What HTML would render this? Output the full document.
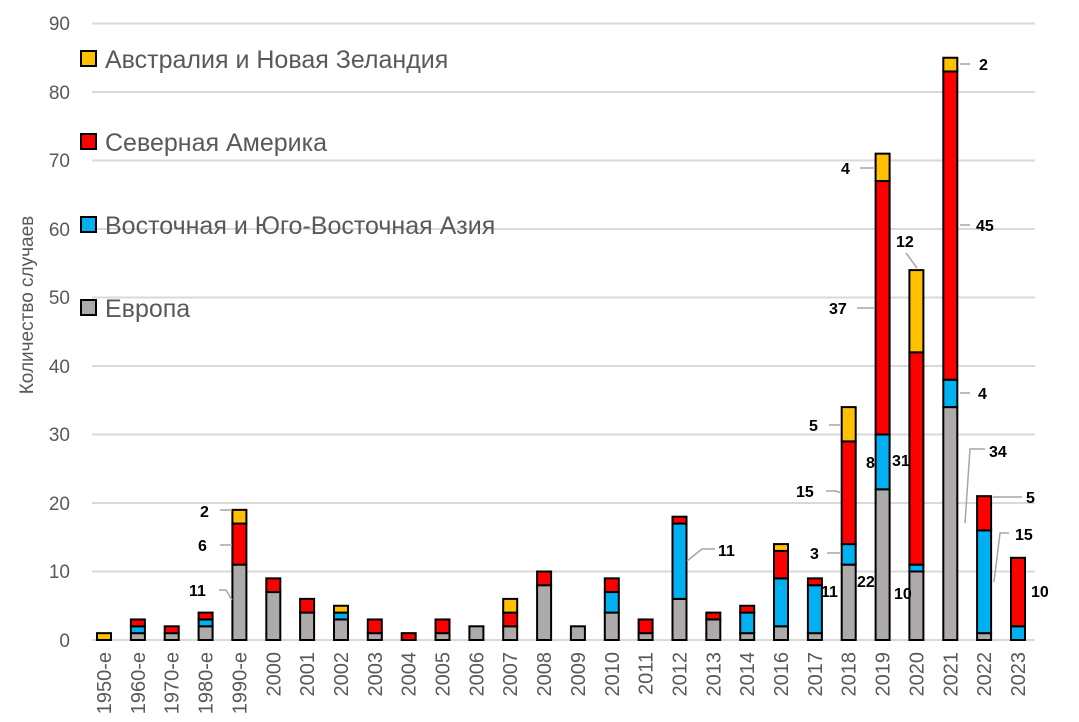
<!DOCTYPE html>
<html><head><meta charset="utf-8"><style>
html,body{margin:0;padding:0;background:#fff;}
svg{display:block;font-family:"Liberation Sans",sans-serif;}
.yl{font-size:19px;fill:#595959;text-anchor:end;}
.xl{font-size:20px;fill:#595959;text-anchor:end;}
.lg{font-size:25px;fill:#595959;}
.dl{font-size:16px;font-weight:bold;fill:#000;}
.ld{stroke:#a6a6a6;stroke-width:1.5;fill:none;}
.e{fill:#aeaaaa}.a{fill:#00b0f0}.n{fill:#ff0000}.u{fill:#ffc000}
</style></head><body>
<svg width="1079" height="722" viewBox="0 0 1079 722" xmlns="http://www.w3.org/2000/svg">
<g stroke="#d9d9d9" stroke-width="2">
<line x1="92" x2="1035" y1="640" y2="640"/><line x1="92" x2="1035" y1="571.5" y2="571.5"/>
<line x1="92" x2="1035" y1="503" y2="503"/><line x1="92" x2="1035" y1="434.5" y2="434.5"/>
<line x1="92" x2="1035" y1="366" y2="366"/><line x1="92" x2="1035" y1="297.5" y2="297.5"/>
<line x1="92" x2="1035" y1="229" y2="229"/><line x1="92" x2="1035" y1="160.5" y2="160.5"/>
<line x1="92" x2="1035" y1="92" y2="92"/><line x1="92" x2="1035" y1="23.5" y2="23.5"/>
</g>
<g class="yl">
<text x="70" y="647">0</text><text x="70" y="578">10</text><text x="70" y="510">20</text>
<text x="70" y="441">30</text><text x="70" y="373">40</text><text x="70" y="304">50</text>
<text x="70" y="236">60</text><text x="70" y="167">70</text><text x="70" y="99">80</text><text x="70" y="30">90</text>
</g>
<text transform="translate(33,305) rotate(-90)" style="font-size:19px;fill:#595959;text-anchor:middle">Количество случаев</text>
<g stroke="#000" stroke-width="2">
<rect class="u" x="97" y="633.15" width="14" height="6.85"/>
<rect class="e" x="130.9" y="633.15" width="14" height="6.85"/><rect class="a" x="130.9" y="626.3" width="14" height="6.85"/><rect class="n" x="130.9" y="619.45" width="14" height="6.85"/>
<rect class="e" x="164.7" y="633.15" width="14" height="6.85"/><rect class="n" x="164.7" y="626.3" width="14" height="6.85"/>
<rect class="e" x="198.6" y="626.3" width="14" height="13.7"/><rect class="a" x="198.6" y="619.45" width="14" height="6.85"/><rect class="n" x="198.6" y="612.6" width="14" height="6.85"/>
<rect class="e" x="232.4" y="564.65" width="14" height="75.35"/><rect class="n" x="232.4" y="523.55" width="14" height="41.1"/><rect class="u" x="232.4" y="509.85" width="14" height="13.7"/>
<rect class="e" x="266.3" y="592.05" width="14" height="47.95"/><rect class="n" x="266.3" y="578.35" width="14" height="13.7"/>
<rect class="e" x="300.1" y="612.6" width="14" height="27.4"/><rect class="n" x="300.1" y="598.9" width="14" height="13.7"/>
<rect class="e" x="334" y="619.45" width="14" height="20.55"/><rect class="a" x="334" y="612.6" width="14" height="6.85"/><rect class="u" x="334" y="605.75" width="14" height="6.85"/>
<rect class="e" x="367.8" y="633.15" width="14" height="6.85"/><rect class="n" x="367.8" y="619.45" width="14" height="13.7"/>
<rect class="n" x="401.7" y="633.15" width="14" height="6.85"/>
<rect class="e" x="435.5" y="633.15" width="14" height="6.85"/><rect class="n" x="435.5" y="619.45" width="14" height="13.7"/>
<rect class="e" x="469.4" y="626.3" width="14" height="13.7"/>
<rect class="e" x="503.2" y="626.3" width="14" height="13.7"/><rect class="n" x="503.2" y="612.6" width="14" height="13.7"/><rect class="u" x="503.2" y="598.9" width="14" height="13.7"/>
<rect class="e" x="537.1" y="585.2" width="14" height="54.8"/><rect class="n" x="537.1" y="571.5" width="14" height="13.7"/>
<rect class="e" x="570.9" y="626.3" width="14" height="13.7"/>
<rect class="e" x="604.8" y="612.6" width="14" height="27.4"/><rect class="a" x="604.8" y="592.05" width="14" height="20.55"/><rect class="n" x="604.8" y="578.35" width="14" height="13.7"/>
<rect class="e" x="638.6" y="633.15" width="14" height="6.85"/><rect class="n" x="638.6" y="619.45" width="14" height="13.7"/>
<rect class="e" x="672.5" y="598.9" width="14" height="41.1"/><rect class="a" x="672.5" y="523.55" width="14" height="75.35"/><rect class="n" x="672.5" y="516.7" width="14" height="6.85"/>
<rect class="e" x="706.3" y="619.45" width="14" height="20.55"/><rect class="n" x="706.3" y="612.6" width="14" height="6.85"/>
<rect class="e" x="740.2" y="633.15" width="14" height="6.85"/><rect class="a" x="740.2" y="612.6" width="14" height="20.55"/><rect class="n" x="740.2" y="605.75" width="14" height="6.85"/>
<rect class="e" x="774" y="626.3" width="14" height="13.7"/><rect class="a" x="774" y="578.35" width="14" height="47.95"/><rect class="n" x="774" y="550.95" width="14" height="27.4"/><rect class="u" x="774" y="544.1" width="14" height="6.85"/>
<rect class="e" x="807.9" y="633.15" width="14" height="6.85"/><rect class="a" x="807.9" y="585.2" width="14" height="47.95"/><rect class="n" x="807.9" y="578.35" width="14" height="6.85"/>
<rect class="e" x="841.7" y="564.65" width="14" height="75.35"/><rect class="a" x="841.7" y="544.1" width="14" height="20.55"/><rect class="n" x="841.7" y="441.35" width="14" height="102.75"/><rect class="u" x="841.7" y="407.1" width="14" height="34.25"/>
<rect class="e" x="875.6" y="489.3" width="14" height="150.7"/><rect class="a" x="875.6" y="434.5" width="14" height="54.8"/><rect class="n" x="875.6" y="181.05" width="14" height="253.45"/><rect class="u" x="875.6" y="153.65" width="14" height="27.4"/>
<rect class="e" x="909.4" y="571.5" width="14" height="68.5"/><rect class="a" x="909.4" y="564.65" width="14" height="6.85"/><rect class="n" x="909.4" y="352.3" width="14" height="212.35"/><rect class="u" x="909.4" y="270.1" width="14" height="82.2"/>
<rect class="e" x="943.3" y="407.1" width="14" height="232.9"/><rect class="a" x="943.3" y="379.7" width="14" height="27.4"/><rect class="n" x="943.3" y="71.45" width="14" height="308.25"/><rect class="u" x="943.3" y="57.75" width="14" height="13.7"/>
<rect class="e" x="977.1" y="633.15" width="14" height="6.85"/><rect class="a" x="977.1" y="530.4" width="14" height="102.75"/><rect class="n" x="977.1" y="496.15" width="14" height="34.25"/>
<rect class="a" x="1011" y="626.3" width="14" height="13.7"/><rect class="n" x="1011" y="557.8" width="14" height="68.5"/>
</g>
<g class="xl">
<text transform="translate(111,652) rotate(-90)">1950-е</text>
<text transform="translate(144.9,652) rotate(-90)">1960-е</text>
<text transform="translate(178.7,652) rotate(-90)">1970-е</text>
<text transform="translate(212.6,652) rotate(-90)">1980-е</text>
<text transform="translate(246.4,652) rotate(-90)">1990-е</text>
<text transform="translate(280.3,652) rotate(-90)">2000</text>
<text transform="translate(314.1,652) rotate(-90)">2001</text>
<text transform="translate(348,652) rotate(-90)">2002</text>
<text transform="translate(381.8,652) rotate(-90)">2003</text>
<text transform="translate(415.7,652) rotate(-90)">2004</text>
<text transform="translate(449.5,652) rotate(-90)">2005</text>
<text transform="translate(483.4,652) rotate(-90)">2006</text>
<text transform="translate(517.2,652) rotate(-90)">2007</text>
<text transform="translate(551.1,652) rotate(-90)">2008</text>
<text transform="translate(584.9,652) rotate(-90)">2009</text>
<text transform="translate(618.8,652) rotate(-90)">2010</text>
<text transform="translate(652.6,652) rotate(-90)">2011</text>
<text transform="translate(686.5,652) rotate(-90)">2012</text>
<text transform="translate(720.3,652) rotate(-90)">2013</text>
<text transform="translate(754.2,652) rotate(-90)">2014</text>
<text transform="translate(788,652) rotate(-90)">2016</text>
<text transform="translate(821.9,652) rotate(-90)">2017</text>
<text transform="translate(855.7,652) rotate(-90)">2018</text>
<text transform="translate(889.6,652) rotate(-90)">2019</text>
<text transform="translate(923.4,652) rotate(-90)">2020</text>
<text transform="translate(957.3,652) rotate(-90)">2021</text>
<text transform="translate(991.1,652) rotate(-90)">2022</text>
<text transform="translate(1025,652) rotate(-90)">2023</text>
</g>
<g>
<rect x="81" y="51" width="15" height="15" fill="#ffc000" stroke="#000" stroke-width="2"/>
<text class="lg" x="105" y="68">Австралия и Новая Зеландия</text>
<rect x="81" y="134" width="15" height="15" fill="#ff0000" stroke="#000" stroke-width="2"/>
<text class="lg" x="105" y="151">Северная Америка</text>
<rect x="81" y="217" width="15" height="15" fill="#00b0f0" stroke="#000" stroke-width="2"/>
<text class="lg" x="105" y="234">Восточная и Юго-Восточная Азия</text>
<rect x="81" y="300" width="15" height="15" fill="#aeaaaa" stroke="#000" stroke-width="2"/>
<text class="lg" x="105" y="317">Европа</text>
</g>
<g class="ld">
<path d="M220 510 H232"/><path d="M220 545 H232"/><path d="M219 590 H226 L232 600"/>
<path d="M715 549 H702 L687 561"/>
<path d="M829 425 H841"/><path d="M826 491 H836 L841 493"/><path d="M827 553 H841"/>
<path d="M860 168 H875"/><path d="M857 308 H875"/>
<path d="M906 253 L917 268"/>
<path d="M960 64 H970"/><path d="M960 225 H970"/><path d="M960 393 H970"/><path d="M985 449 H970 L965 523"/>
<path d="M1022 497 H993"/><path d="M1009 533 H1000 L994 582"/>
</g>
<g class="dl">
<text x="200" y="517">2</text><text x="198" y="551">6</text><text x="189" y="596">11</text>
<text x="718" y="556">11</text>
<text x="821" y="597">11</text>
<text x="809" y="431">5</text><text x="796" y="497">15</text><text x="810" y="559">3</text><text x="857" y="587">22</text>
<text x="841" y="174">4</text><text x="829" y="314">37</text><text x="866" y="468">8</text><text x="892" y="466">31</text><text x="894" y="599">10</text>
<text x="896" y="247">12</text>
<text x="979" y="70">2</text><text x="976" y="231">45</text><text x="978" y="399">4</text><text x="989" y="457">34</text>
<text x="1026" y="503">5</text><text x="1015" y="540">15</text>
<text x="1031" y="597">10</text>
</g>
</svg>
</body></html>
